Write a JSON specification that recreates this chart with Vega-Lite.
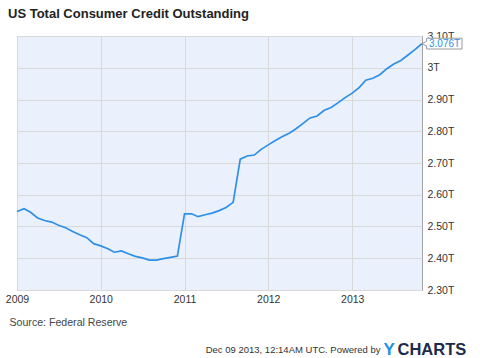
{
  "$schema": "https://vega.github.io/schema/vega-lite/v6.json",
  "width": 405,
  "height": 254,
  "autosize": {"type": "none"},
  "padding": {"left": 17, "top": 36, "right": 58, "bottom": 68},
  "background": "white",
  "config": {
    "font": "Liberation Sans",
    "view": {"fill": "#EAF1FD", "stroke": "#A3A3A3", "strokeWidth": 1}
  },
  "title": {
    "text": "US Total Consumer Credit Outstanding",
    "anchor": "start",
    "frame": "group",
    "fontSize": 13,
    "fontWeight": "bold",
    "color": "#222222",
    "font": "Liberation Sans",
    "dx": -9,
    "offset": 10
  },
  "data": {
    "values": [
      {"date": "2009-01-01", "value": 2.547}, {"date": "2009-02-01", "value": 2.556}, {"date": "2009-03-01", "value": 2.545},
      {"date": "2009-04-01", "value": 2.527}, {"date": "2009-05-01", "value": 2.519}, {"date": "2009-06-01", "value": 2.514},
      {"date": "2009-07-01", "value": 2.504}, {"date": "2009-08-01", "value": 2.496}, {"date": "2009-09-01", "value": 2.484},
      {"date": "2009-10-01", "value": 2.474}, {"date": "2009-11-01", "value": 2.465}, {"date": "2009-12-01", "value": 2.446},
      {"date": "2010-01-01", "value": 2.439}, {"date": "2010-02-01", "value": 2.430}, {"date": "2010-03-01", "value": 2.419},
      {"date": "2010-04-01", "value": 2.423}, {"date": "2010-05-01", "value": 2.414}, {"date": "2010-06-01", "value": 2.406},
      {"date": "2010-07-01", "value": 2.401}, {"date": "2010-08-01", "value": 2.394}, {"date": "2010-09-01", "value": 2.394},
      {"date": "2010-10-01", "value": 2.399}, {"date": "2010-11-01", "value": 2.403}, {"date": "2010-12-01", "value": 2.407},
      {"date": "2011-01-01", "value": 2.540}, {"date": "2011-02-01", "value": 2.540}, {"date": "2011-03-01", "value": 2.531},
      {"date": "2011-04-01", "value": 2.537}, {"date": "2011-05-01", "value": 2.542}, {"date": "2011-06-01", "value": 2.550},
      {"date": "2011-07-01", "value": 2.560}, {"date": "2011-08-01", "value": 2.576}, {"date": "2011-09-01", "value": 2.712},
      {"date": "2011-10-01", "value": 2.722}, {"date": "2011-11-01", "value": 2.725}, {"date": "2011-12-01", "value": 2.743},
      {"date": "2012-01-01", "value": 2.757}, {"date": "2012-02-01", "value": 2.771}, {"date": "2012-03-01", "value": 2.783},
      {"date": "2012-04-01", "value": 2.794}, {"date": "2012-05-01", "value": 2.808}, {"date": "2012-06-01", "value": 2.825},
      {"date": "2012-07-01", "value": 2.842}, {"date": "2012-08-01", "value": 2.848}, {"date": "2012-09-01", "value": 2.866},
      {"date": "2012-10-01", "value": 2.875}, {"date": "2012-11-01", "value": 2.890}, {"date": "2012-12-01", "value": 2.906},
      {"date": "2013-01-01", "value": 2.920}, {"date": "2013-02-01", "value": 2.938}, {"date": "2013-03-01", "value": 2.961},
      {"date": "2013-04-01", "value": 2.967}, {"date": "2013-05-01", "value": 2.978}, {"date": "2013-06-01", "value": 2.997},
      {"date": "2013-07-01", "value": 3.012}, {"date": "2013-08-01", "value": 3.023}, {"date": "2013-09-01", "value": 3.040},
      {"date": "2013-10-01", "value": 3.057}, {"date": "2013-11-01", "value": 3.076}
    ]
  },
  "layer": [
    {
      "mark": {"type": "line", "color": "#2E8FE8", "strokeWidth": 1.7},
      "encoding": {
        "x": {
          "field": "date",
          "type": "temporal",
          "scale": {"type": "utc", "nice": false},
          "axis": {
            "values": [
              {"year": 2009, "month": 1, "date": 1, "utc": true},
              {"year": 2010, "month": 1, "date": 1, "utc": true},
              {"year": 2011, "month": 1, "date": 1, "utc": true},
              {"year": 2012, "month": 1, "date": 1, "utc": true},
              {"year": 2013, "month": 1, "date": 1, "utc": true}
            ],
            "format": "%Y",
            "grid": true,
            "gridColor": "#D9D9D9",
            "ticks": false,
            "domain": false,
            "labelColor": "#333333",
            "labelFontSize": 10.5,
            "labelPadding": 4,
            "labelFlush": false,
            "labelOverlap": false,
            "title": "Source: Federal Reserve",
            "titleX": -8,
            "titleY": 32,
            "titleAlign": "left",
            "titleBaseline": "middle",
            "titleFontWeight": "normal",
            "titleFontSize": 10.6,
            "titleColor": "#444444"
          }
        },
        "y": {
          "field": "value",
          "type": "quantitative",
          "scale": {"domain": [2.3, 3.1], "nice": false, "zero": false},
          "axis": {
            "orient": "right",
            "values": [2.3, 2.4, 2.5, 2.6, 2.7, 2.8, 2.9, 3, 3.1],
            "labelExpr": "datum.value == 3 ? '3T' : format(datum.value, '.2f') + 'T'",
            "grid": true,
            "gridColor": "#D9D9D9",
            "ticks": false,
            "domain": false,
            "labelPadding": 5,
            "labelColor": "#333333",
            "labelFontSize": 10.5,
            "labelOverlap": false,
            "title": "Dec 09 2013, 12:14AM UTC.  Powered by",
            "titleAngle": 0,
            "titleX": -42,
            "titleY": 313,
            "titleAlign": "right",
            "titleBaseline": "middle",
            "titleFontWeight": "normal",
            "titleFontSize": 9.5,
            "titleColor": "#333333"
          }
        }
      }
    },
    {
      "transform": [{"filter": "datum.value > 3.07"}],
      "mark": {
        "type": "point",
        "shape": "M0,0L0.23,-0.11L0.23,-0.27L2,-0.27L2,0.27L0.23,0.27L0.23,0.11Z",
        "size": 1600,
        "filled": true,
        "fill": "white",
        "stroke": "#9A9A9A",
        "strokeWidth": 1,
        "opacity": 1
      },
      "encoding": {
        "x": {"field": "date", "type": "temporal"},
        "y": {
          "field": "value",
          "type": "quantitative",
          "scale": {"domain": [2.3, 3.1], "nice": false, "zero": false},
          "axis": {
            "orient": "right",
            "labels": false,
            "ticks": false,
            "domain": false,
            "grid": false,
            "title": "Y",
            "titleAngle": 0,
            "titleX": -39,
            "titleY": 313,
            "titleAlign": "left",
            "titleBaseline": "middle",
            "titleFontSize": 17,
            "titleFontWeight": "bold",
            "titleColor": "#1E90E8"
          }
        }
      }
    },
    {
      "transform": [
        {"filter": "datum.value > 3.07"},
        {"calculate": "format(datum.value, '.3f') + 'T'", "as": "label"}
      ],
      "mark": {"type": "text", "align": "left", "baseline": "middle", "dx": 7, "color": "#2E8FE8", "fontSize": 10},
      "encoding": {
        "x": {"field": "date", "type": "temporal"},
        "y": {
          "field": "value",
          "type": "quantitative",
          "scale": {"domain": [2.3, 3.1], "nice": false, "zero": false},
          "axis": {
            "orient": "right",
            "labels": false,
            "ticks": false,
            "domain": false,
            "grid": false,
            "title": "CHARTS",
            "titleAngle": 0,
            "titleX": -25,
            "titleY": 313,
            "titleAlign": "left",
            "titleBaseline": "middle",
            "titleFontSize": 16.5,
            "titleFontWeight": "bold",
            "titleColor": "#1B2B4B"
          }
        },
        "text": {"field": "label"}
      }
    }
  ],
  "resolve": {"scale": {"y": "independent"}}
}
